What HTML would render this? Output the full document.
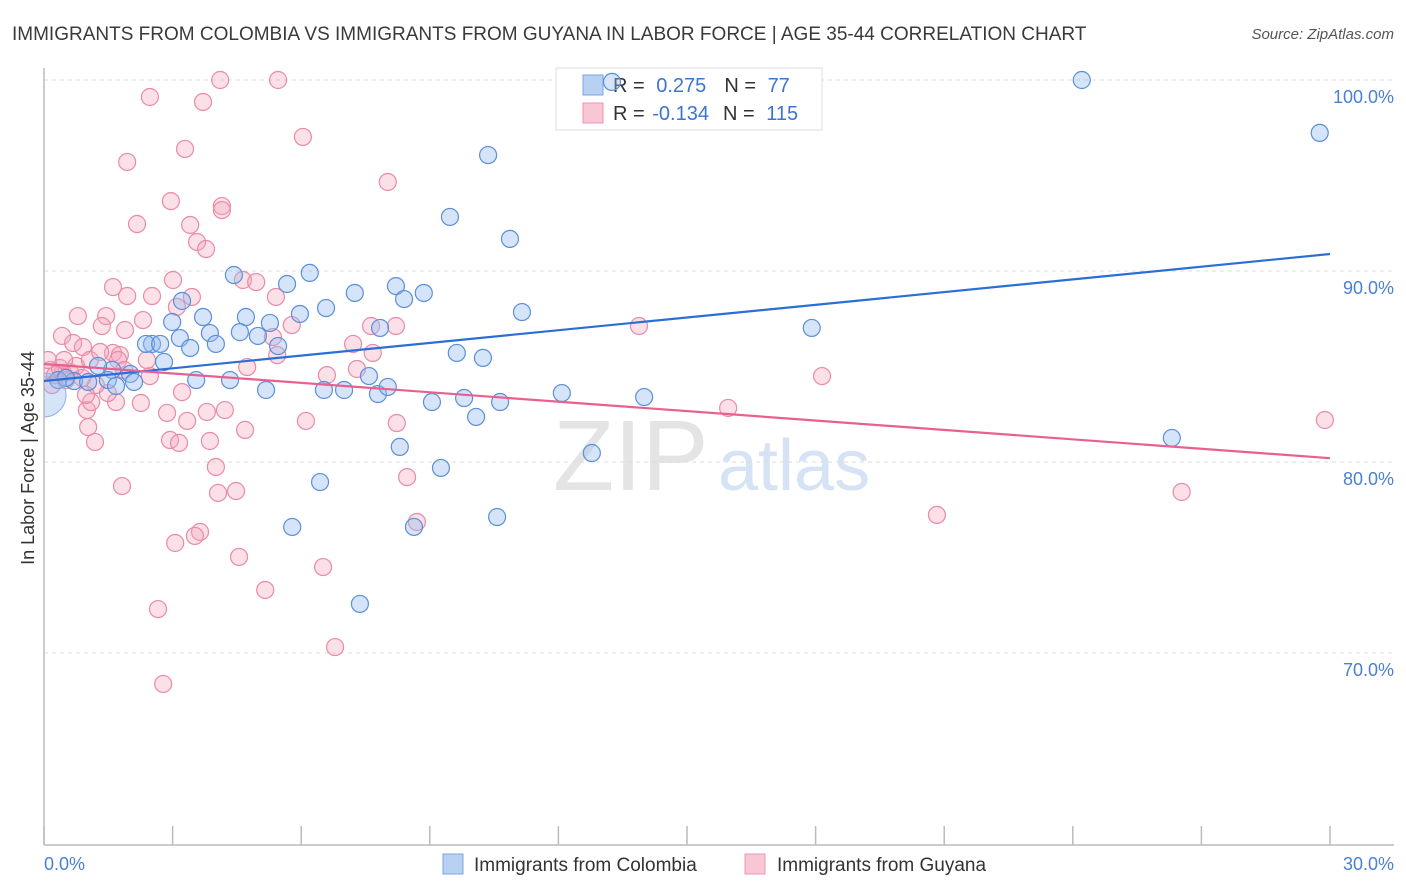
<!DOCTYPE html>
<html><head><meta charset="utf-8">
<style>
body{margin:0;background:#fff;font-family:"Liberation Sans",sans-serif;}
#wrap{position:relative;width:1406px;height:892px;overflow:hidden;}
svg text{font-family:"Liberation Sans",sans-serif;}
</style></head>
<body>
<div id="wrap">
<svg id="chart" width="1406" height="892">
  <defs><clipPath id="plotclip"><rect x="44" y="60" width="1360" height="785"/></clipPath></defs>
  <text x="12" y="40" font-size="19" fill="#3a3a3a">IMMIGRANTS FROM COLOMBIA VS IMMIGRANTS FROM GUYANA IN LABOR FORCE | AGE 35-44 CORRELATION CHART</text>
  <text x="1394" y="39" font-size="15" fill="#555" font-style="italic" text-anchor="end">Source: ZipAtlas.com</text>
  <g>
    <text x="553" y="490" font-size="100" font-family="Liberation Serif" fill="#e4e4e4">ZIP</text>
    <text x="718" y="490" font-size="72" fill="#d6e3f5">atlas</text>
  </g>
  <g id="grid"></g>
  <g id="axes"></g>
  <g>
    <rect x="556" y="68" width="266" height="62" fill="#fff" stroke="#ddd"/>
    <rect x="583" y="75" width="20" height="20" fill="#b8d0f2" stroke="#7aa6e2"/>
    <text x="613" y="92" font-size="20" fill="#333">R = <tspan fill="#3c74d0" dx="6">0.275</tspan><tspan dx="18" fill="#333">N = </tspan><tspan fill="#3c74d0" dx="6">77</tspan></text>
    <rect x="583" y="103" width="20" height="20" fill="#f8c6d5" stroke="#ec94b0"/>
    <text x="613" y="120" font-size="20" fill="#333">R = <tspan fill="#3c74d0" dx="2">-0.134</tspan><tspan dx="14" fill="#333">N = </tspan><tspan fill="#3c74d0" dx="6">115</tspan></text>
  </g>
  <g id="pts" clip-path="url(#plotclip)"></g>
  <g id="trend"></g>
  <text transform="translate(34,458) rotate(-90)" font-size="18" fill="#333" text-anchor="middle">In Labor Force | Age 35-44</text>
  <text x="44" y="870" font-size="18" fill="#4a7fd4">0.0%</text>
  <text x="1394" y="870" font-size="18" fill="#4a7fd4" text-anchor="end">30.0%</text>
  <g>
    <rect x="443" y="854" width="20" height="20" fill="#b8d0f2" stroke="#7aa6e2"/>
    <text x="474" y="871" font-size="19" fill="#333">Immigrants from Colombia</text>
    <rect x="745" y="854" width="20" height="20" fill="#f8c6d5" stroke="#ec94b0"/>
    <text x="777" y="871" font-size="19" fill="#333">Immigrants from Guyana</text>
  </g>
</svg>
</div>
<script>
const yTicks = [100, 90, 80, 70];
const yTickLabels = ["100.0%", "90.0%", "80.0%", "70.0%"];
const xTicks = [0,3,6,9,12,15,18,21,24,27,30];
const colombiaX = [13.25,24.21,29.76,10.36,9.47,10.87,4.43,6.20,5.67,7.25,8.21,8.86,8.40,3.22,6.58,11.15,5.97,2.99,3.71,4.71,5.27,3.87,4.57,3.17,4.99,7.84,2.52,2.38,2.71,3.41,4.01,5.46,9.63,10.24,17.91,2.80,1.59,1.26,2.01,1.49,3.55,4.34,5.18,6.53,7.00,7.58,7.79,8.02,9.05,9.80,10.08,10.64,12.08,14.00,0.70,1.03,0.33,0.51,1.68,2.10,8.30,9.26,12.78,6.44,5.79,8.63,10.57,7.37,26.31];
const colombiaY = [99.9,100.0,97.23,96.07,92.83,91.68,89.79,89.90,89.32,88.85,89.21,88.85,88.53,88.43,88.06,87.85,87.75,87.33,87.59,87.59,87.28,86.75,86.8,86.49,86.6,87.02,86.18,86.18,86.18,85.97,86.18,86.07,85.71,85.45,87.02,85.24,84.82,85.03,84.61,84.29,84.29,84.29,83.77,83.77,83.77,84.5,83.56,83.93,83.14,83.35,82.36,83.14,83.61,83.4,84.24,84.19,84.29,84.4,83.98,84.19,80.79,79.69,80.47,78.95,76.6,76.6,77.12,72.57,81.26];
const colombiaBigX = [0.0];
const colombiaBigY = [83.51];
const guyanaX = [4.11,5.46,2.47,3.71,6.04,3.29,1.94,8.02,2.96,4.15,4.15,2.17,3.41,3.57,3.78,3.01,4.64,4.95,1.61,1.94,2.52,3.45,5.41,0.79,1.45,1.35,2.31,1.89,3.10,0.42,7.21,7.67,7.63,8.21,5.78,5.34,5.44,7.30,6.60,4.74,0.68,0.91,1.61,1.77,0.44,3.22,2.26,1.68,1.49,1.00,1.10,1.03,1.19,2.87,3.34,3.80,4.22,4.69,6.11,8.23,2.94,3.15,3.87,2.47,2.40,1.82,4.01,4.06,4.48,8.47,8.70,6.51,5.16,4.55,3.64,3.52,3.06,2.66,6.79,2.78,13.88,15.96,18.15,20.83,26.54,29.88,0.14,0.26,0.37,0.51,0.61,0.75,0.89,1.07,1.21,0.19,0.09,0.47,1.73,1.87,0.98,1.31];
const guyanaY = [100,100,99.11,98.85,97.02,96.39,95.71,94.66,93.66,93.4,93.19,92.46,92.41,91.52,91.15,89.53,89.53,89.42,89.16,88.69,88.69,88.64,88.64,87.64,87.64,87.12,87.43,86.91,88.12,86.6,86.18,85.71,87.12,87.12,87.17,86.54,85.6,84.87,84.55,84.97,86.23,86.02,85.71,85.6,84.66,83.66,83.09,83.14,83.61,82.72,83.14,81.83,81.05,82.57,82.15,82.62,82.72,81.68,82.15,82.04,81.15,81.0,81.1,84.5,85.34,78.74,79.74,78.38,78.48,79.21,76.86,74.5,73.3,75.03,76.34,76.13,75.76,72.3,70.31,68.38,87.12,82.83,84.5,77.23,78.43,82.2,84.82,84.55,84.92,84.29,84.71,85.03,84.4,85.34,84.03,84.03,85.34,85.34,85.34,84.82,83.51,85.76];
const trendX = [0, 30];
const colombiaTrend = [84.24, 90.89];
const guyanaTrend = [85.13, 80.2];

const NS = "http://www.w3.org/2000/svg";
const X0=44, X1=1330, Y100=80, PX_PER=19.1;
function sx(v){ return X0 + (v/30)*(X1-X0); }
function sy(v){ return Y100 + (100-v)*PX_PER; }
function mk(tag, attrs, parent){ const e=document.createElementNS(NS,tag); for(const k in attrs) e.setAttribute(k,attrs[k]); parent.appendChild(e); return e; }

const grid=document.getElementById('grid');
yTicks.forEach((t,i)=>{
  const l=mk('line',{x1:X0,x2:1394,y1:sy(t),y2:sy(t),stroke:'#dcdcdc','stroke-dasharray':'4,4'},grid);
  
  
  const tx=mk('text',{x:1394,y:sy(t)+23,'font-size':18,fill:'#4a7fd4','text-anchor':'end'},grid);
  tx.textContent=yTickLabels[i];
  
  
});
const axes=document.getElementById('axes');
const ya=mk('line',{x1:X0,x2:X0,y1:68,y2:845,stroke:'#bbb','stroke-width':1.5},axes);


const xa=mk('line',{x1:X0,x2:1394,y1:845,y2:845,stroke:'#bbb','stroke-width':1.5},axes);


xTicks.forEach(t=>{
  const tk=mk('line',{x1:sx(t),x2:sx(t),y1:826,y2:845,stroke:'#bbb','stroke-width':1.5},axes);
  
  
});

const pts=document.getElementById('pts');
guyanaX.forEach((x,i)=>{
  const c=mk('circle',{cx:sx(x),cy:sy(guyanaY[i]),r:8.5,fill:'rgba(244,165,190,0.35)',stroke:'#ea8aa8','stroke-width':1.2},pts);
  
  
});
colombiaX.forEach((x,i)=>{
  const c=mk('circle',{cx:sx(x),cy:sy(colombiaY[i]),r:8.5,fill:'rgba(150,188,238,0.4)',stroke:'#5b8fda','stroke-width':1.2},pts);
  
  
});
colombiaBigX.forEach((x,i)=>{
  const c=mk('circle',{cx:sx(x),cy:sy(colombiaBigY[i]),r:22,fill:'rgba(150,188,238,0.4)',stroke:'#8fb3e6','stroke-width':1},pts);
  
  
});

const tr=document.getElementById('trend');
const lb=mk('line',{x1:sx(trendX[0]),y1:sy(colombiaTrend[0]),x2:sx(trendX[1]),y2:sy(colombiaTrend[1]),stroke:'#2a6fd6','stroke-width':2.2},tr);


const lp=mk('line',{x1:sx(trendX[0]),y1:sy(guyanaTrend[0]),x2:sx(trendX[1]),y2:sy(guyanaTrend[1]),stroke:'#e8608f','stroke-width':2.2},tr);


</script>
</body></html>
